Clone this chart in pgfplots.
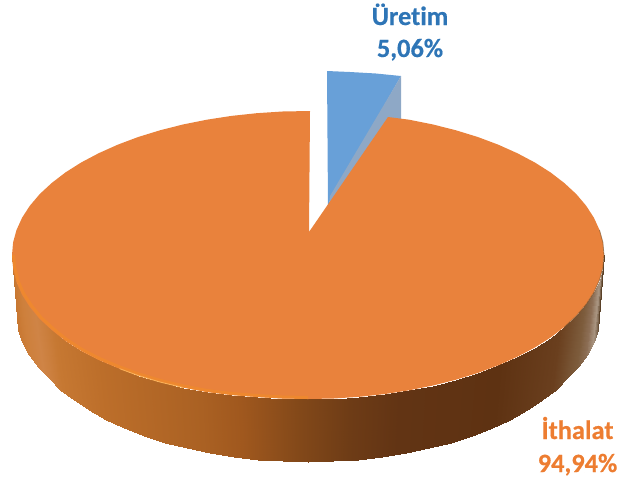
\documentclass[border=0pt]{standalone}
\usepackage{pgfplots}
\pgfplotsset{compat=1.18}
\usepackage{fontspec}
\setmainfont[Ligatures=NoCommon,BoldFeatures={FakeBold=0.5}]{Carlito}
\definecolor{topo}{RGB}{233,130,60}
\definecolor{rimo}{RGB}{240,138,44}
\definecolor{labb}{RGB}{46,117,182}
\definecolor{labo}{RGB}{237,125,49}
\definecolor{blueface}{RGB}{104,160,216}
\definecolor{blueside}{RGB}{142,168,198}
\definecolor{hilite}{RGB}{250,175,85}
\definecolor{rimdark}{RGB}{120,80,40}
\begin{document}
\begin{tikzpicture}[x=1pt,y=1pt]
\useasboundingbox (0,0) rectangle (620,483);
\begin{axis}[
  at={(0,0)},anchor=south west,
  scale only axis,width=620pt,height=483pt,
  xmin=0,xmax=620,ymin=0,ymax=483,y dir=reverse,
  hide axis,clip=false,
  point meta min=12,point meta max=604,
  colormap={side}{rgb255(12pt)=(198,118,48);rgb255(22pt)=(206,128,60);rgb255(35pt)=(207,132,70);rgb255(55pt)=(198,120,50);rgb255(100pt)=(188,110,42);rgb255(200pt)=(170,97,35);rgb255(240pt)=(160,88,30);rgb255(300pt)=(130,72,25);rgb255(350pt)=(110,60,22);rgb255(400pt)=(98,52,20);rgb255(500pt)=(94,50,18);rgb255(560pt)=(106,63,30);rgb255(585pt)=(125,92,60);rgb255(593pt)=(140,110,85);rgb255(599pt)=(170,150,130);rgb255(604pt)=(90,65,40)},
]
% blue slice
\addplot[fill=blueface,draw=none,forget plot] coordinates {(327,71)(350,72)(376,73.5)(401,76)(330,200)(328,207)} -- cycle;
\addplot[fill=blueside,draw=none,forget plot] coordinates {(401,76)(401,122)(328,212)(330,196)} -- cycle;
% side
\addplot[surf,shader=interp,mesh/rows=2,point meta=\thisrow{c},forget plot] table {
x y c
12 255 12
13.1 267.6 13.1
16.5 282 16.5
22.1 295 22.1
29.8 307 29.8
39.7 319 39.7
51.7 330 51.7
65.5 341 65.5
81.3 351 81.3
98.7 360 98.7
117.7 368 117.7
138.2 375.5 138.2
160 382 160
182.9 387.5 182.9
206.8 392 206.8
231.4 395 231.4
256.6 397 256.6
282.2 398.5 282.2
308 399 308
333.8 398.5 333.8
359.4 396.8 359.4
384.6 394.1 384.6
409.2 390.3 409.2
433.1 385.5 433.1
456 379.7 456
477.8 373 477.8
498.3 365.3 498.3
517.3 356.8 517.3
534.7 347.6 534.7
550.5 337.6 550.5
564.3 327 564.3
576.3 315.9 576.3
586.2 304.2 586.2
593.9 292.3 593.9
599.5 280 599.5
602.9 267.6 602.9
604 255 604
17 317 12
18 329.6 13.1
22 342.2 16.5
29 354.5 22.1
38 366.6 29.8
48.8 378.3 39.7
60.3 389.5 51.7
73.7 400.2 65.5
88.9 410.2 81.3
105.8 419.5 98.7
124.2 428.1 117.7
144 435.8 138.2
165 442.6 160
187.1 448.4 182.9
210.2 453.3 206.8
234 457.1 231.4
258.3 459.8 256.6
283.1 461.4 282.2
308 462 308
332.9 461.4 333.8
357.7 459.8 359.4
382 457.1 384.6
405.8 453.3 409.2
429 448.4 433.1
451 442.6 456
472 435.8 477.8
491.8 428.1 498.3
510.2 419.5 517.3
527.1 410.2 534.7
542.3 400.2 550.5
555.7 389.5 564.3
567.2 378.3 576.3
578 366.6 586.2
587 354.5 593.9
594 342.2 599.5
598 329.6 602.9
599 317 604
};
% top face
\addplot[fill=topo,draw=none,forget plot] coordinates {
(309,232)(388,117)(409.2,119.7)(433.1,124.5)(456,130.3)(477.8,137)(498.3,144.7)(517.3,153.2)(534.7,162.4)(550.5,172.4)(564.3,183)(576.3,194.1)(586.2,205.8)(593.9,217.7)(599.5,230)(602.9,242.4)(604,255)
(602.9,267.6)(599.5,280)(593.9,292.3)(586.2,304.2)(576.3,315.9)(564.3,327)(550.5,337.6)(534.7,347.6)(517.3,356.8)(498.3,365.3)(477.8,373)(456,379.7)(433.1,385.5)(409.2,390.3)(384.6,394.1)(359.4,396.8)(333.8,398.5)(308,399)
(282.2,398.5)(256.6,397)(231.4,395)(206.8,392)(182.9,387.5)(160,382)(138.2,375.5)(117.7,368)(98.7,360)(81.3,351)(65.5,341)(51.7,330)(39.7,319)(29.8,307)(22.1,295)(16.5,282)(13.1,267.6)(12,255)
(13.1,242.4)(16.5,230)(22.1,217.7)(29.8,205.8)(39.7,194.1)(51.7,183)(65.5,172.4)(81.3,162.4)(98.7,153.2)(117.7,144.7)(138.2,137)(160,130.3)(182.9,124.5)(206.8,119.7)(231.4,115.9)(256.6,113.2)(282.2,111.5)(310,111)
} -- cycle;
% rim
\addplot[rimo,line width=3pt,opacity=.8,forget plot] coordinates {(13.5,255)(14.6,267)(18,281)(23.6,293.5)(31.3,305.5)(41,317.5)(53,328.5)(66.5,339.5)(82,349.5)(99.5,358.5)(118.5,366.5)(138.7,374)(160.5,380.5)(183.3,386)(207,390.5)(231.4,393.5)(256.6,395.5)(282.2,397)(308,397.5)};
\addplot[hilite,line width=0.9pt,forget plot] coordinates {(120,368.8)(138.2,375.5)(160,382)(182.9,387.5)};
\addplot[rimdark,line width=0.8pt,opacity=.6,forget plot] coordinates {(564.3,327)(576.3,315.9)(586.2,304.2)(593.9,292.3)(599.5,280)(602.9,267.6)(604,255)(602.9,242.4)(599.5,230)};
\node[anchor=base,font=\fontsize{26.4}{26.4}\selectfont\bfseries,text=labb] at (axis cs:410,25) {Üretim};
\node[anchor=base,font=\fontsize{26.4}{26.4}\selectfont\bfseries,text=labb] at (axis cs:410,57) {5,06\%};
\node[anchor=base,font=\fontsize{26.4}{26.4}\selectfont\bfseries,text=labo] at (axis cs:577.5,439) {İthalat};
\node[anchor=base,font=\fontsize{26.4}{26.4}\selectfont\bfseries,text=labo] at (axis cs:577.5,472) {94,94\%};
\end{axis}
\end{tikzpicture}
\end{document}
